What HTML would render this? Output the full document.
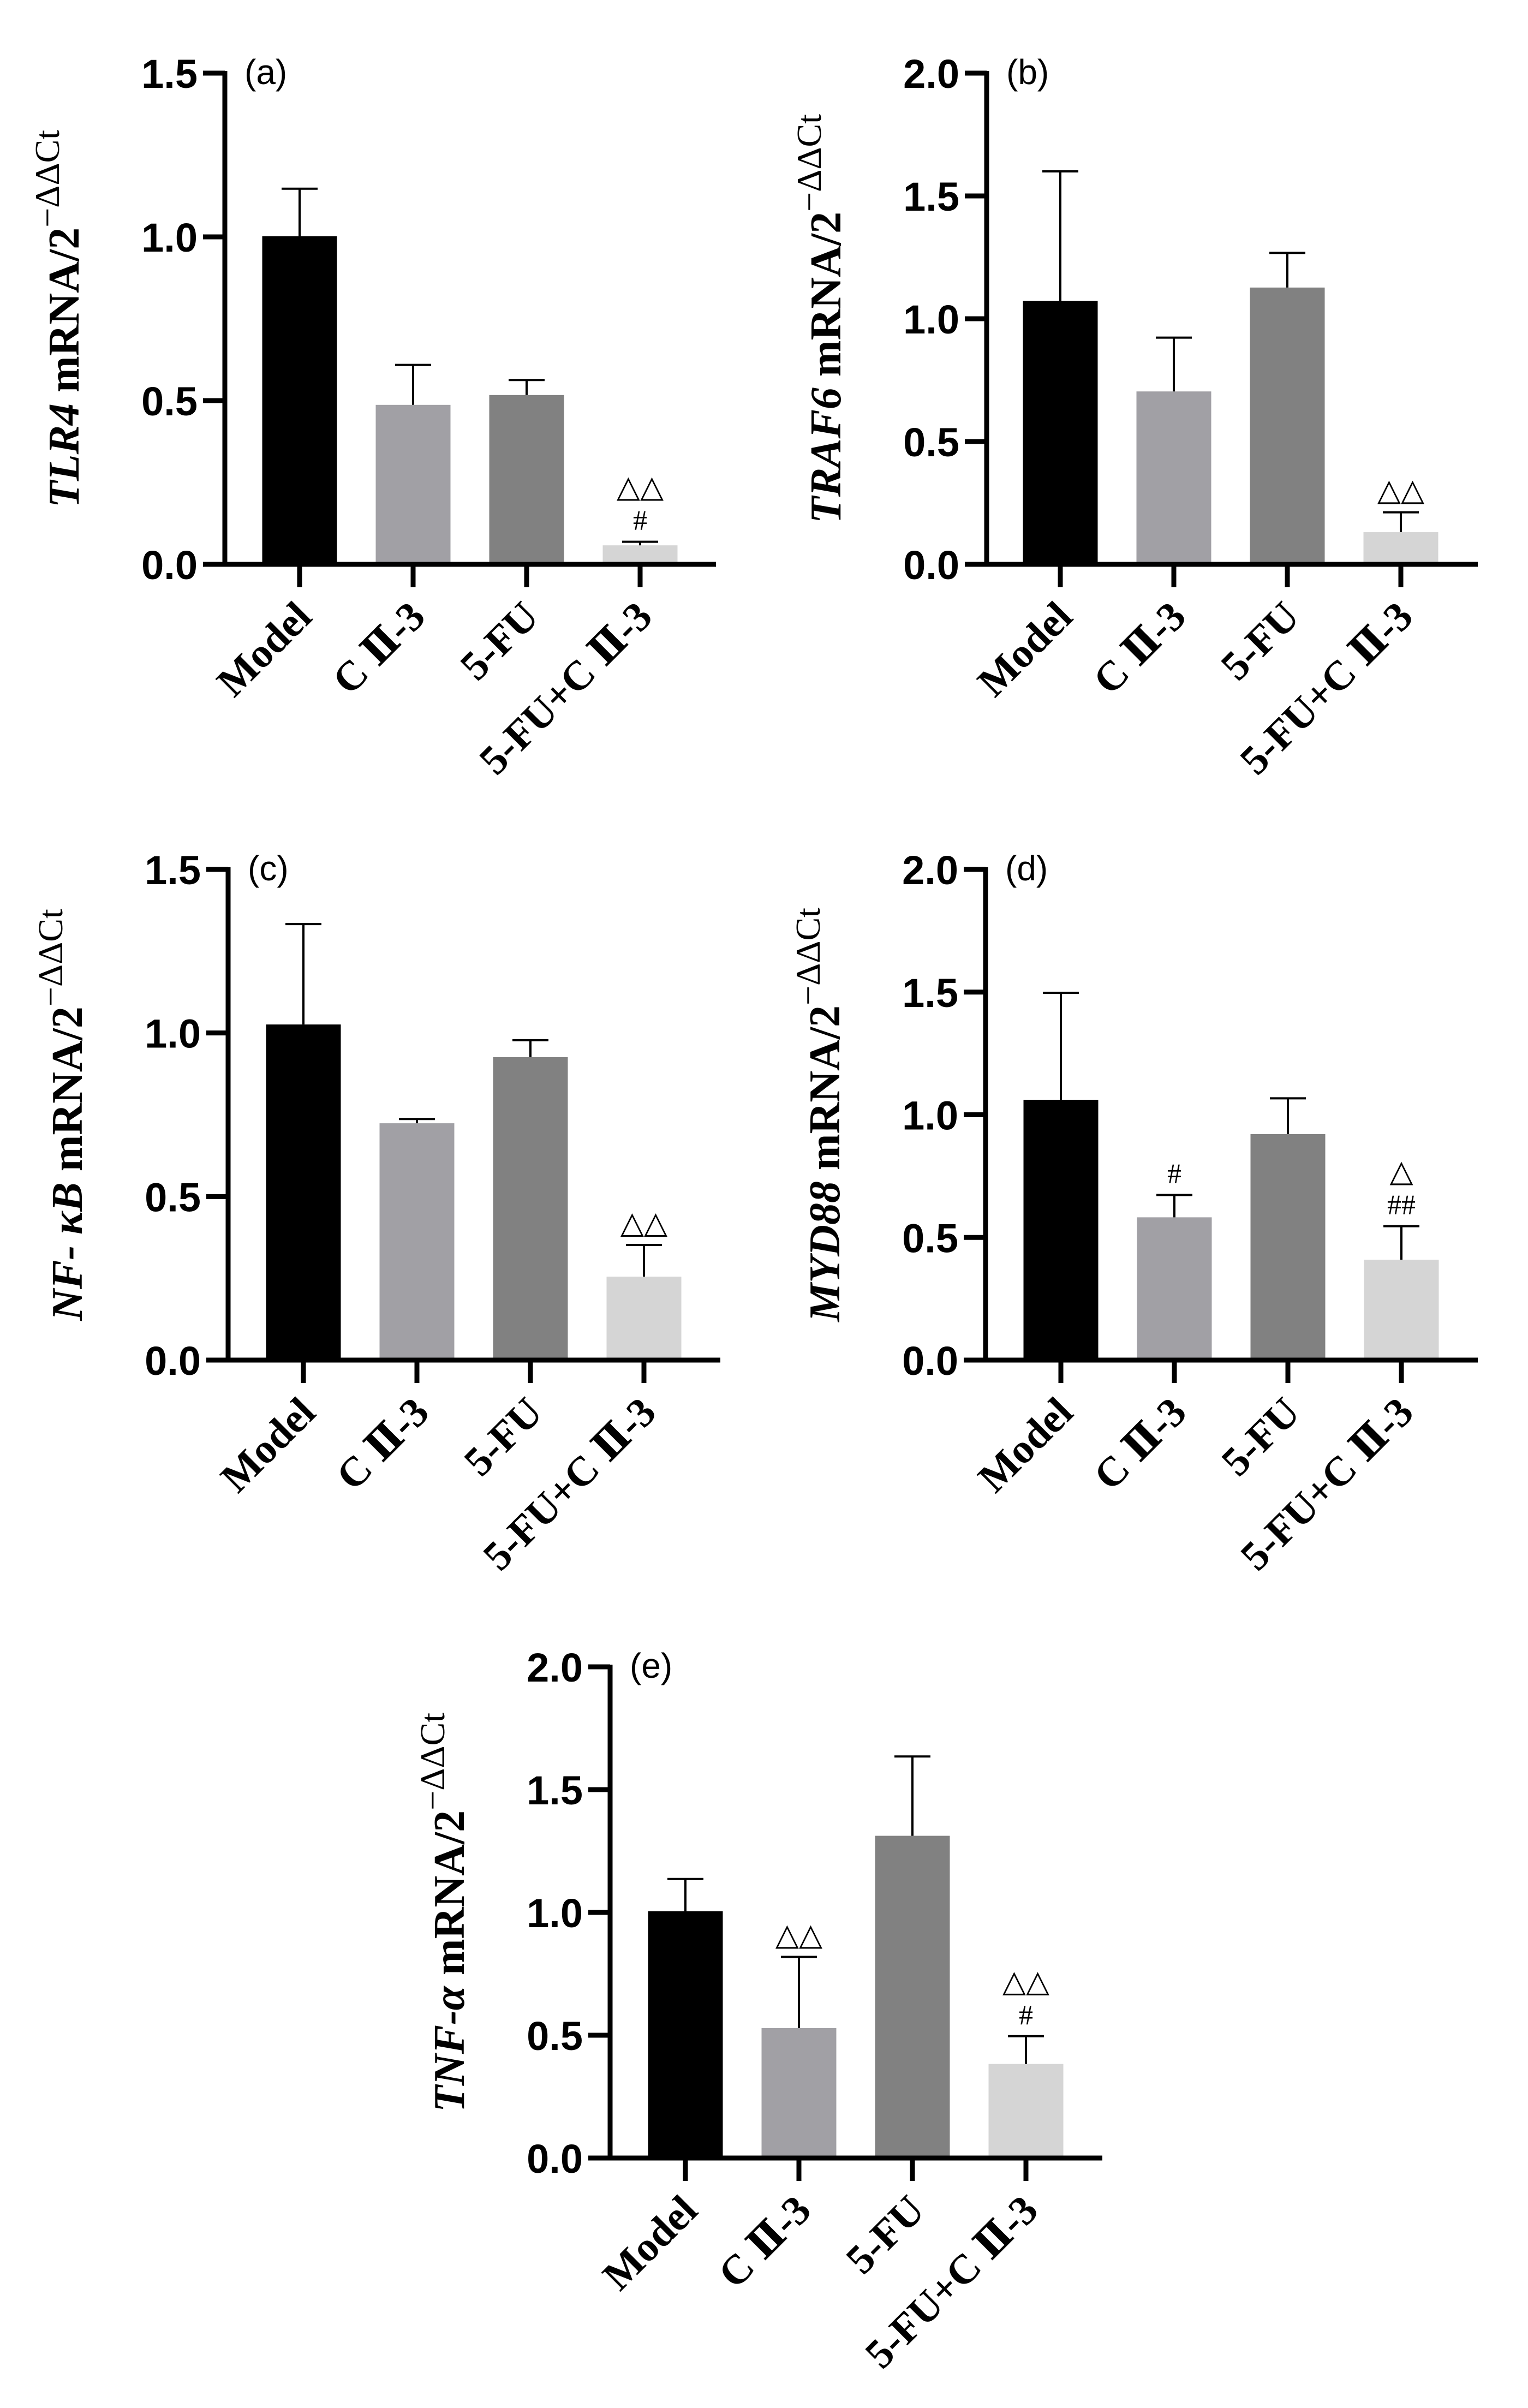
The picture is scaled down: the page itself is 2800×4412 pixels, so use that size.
<!DOCTYPE html>
<html><head><meta charset="utf-8">
<style>
html,body{margin:0;padding:0;background:#fff;}
svg{display:block;}
</style></head>
<body>
<svg id="fig" xmlns="http://www.w3.org/2000/svg" width="2800" height="4412" viewBox="0 0 2800 4412">
<rect width="2800" height="4412" fill="#fff"/>
</svg>
<script>
const categories = ["Model", "C \u2161-3", "5-FU", "5-FU+C \u2161-3"];
const barColors = ["#000000", "#a1a0a5", "#818181", "#d5d5d5"];
const panelIds = ["a", "b", "c", "d", "e"];
const genes = ["TLR4", "TRAF6", "NF- \u03baB", "MYD88", "TNF-\u03b1"];
const yMaxes = [1.5, 2.0, 1.5, 2.0, 2.0];
const tickStep = 0.5;
const meansA = [1.002, 0.487, 0.517, 0.058];
const errsA  = [1.147, 0.609, 0.563, 0.069];
const meansB = [1.073, 0.704, 1.127, 0.131];
const errsB  = [1.600, 0.923, 1.268, 0.212];
const meansC = [1.026, 0.724, 0.926, 0.255];
const errsC  = [1.333, 0.737, 0.978, 0.352];
const meansD = [1.061, 0.582, 0.921, 0.409];
const errsD  = [1.497, 0.673, 1.067, 0.546];
const meansE = [1.005, 0.529, 1.312, 0.383];
const errsE  = [1.136, 0.819, 1.635, 0.496];
const annotA = [[], [], [], ["#", "\u25b3\u25b3"]];
const annotB = [[], [], [], ["\u25b3\u25b3"]];
const annotC = [[], [], [], ["\u25b3\u25b3"]];
const annotD = [[], ["#"], [], ["##", "\u25b3"]];
const annotE = [[], ["\u25b3\u25b3"], [], ["#", "\u25b3\u25b3"]];

const allMeans = [meansA, meansB, meansC, meansD, meansE];
const allErrs = [errsA, errsB, errsC, errsD, errsE];
const allAnnots = [annotA, annotB, annotC, annotD, annotE];
// layout (pixel geometry)
const layout = [
  {ax:412, top:134, bot:1034, xEnd:1312, c0:549},
  {ax:1808, top:134, bot:1034, xEnd:2708, c0:1943},
  {ax:418, top:1593, bot:2492, xEnd:1320, c0:556},
  {ax:1806, top:1593, bot:2492, xEnd:2708, c0:1944},
  {ax:1118, top:3054, bot:3954, xEnd:2020, c0:1256}
];
const STEP = 208, BARW = 137;
const NS = "http://www.w3.org/2000/svg";
const svg = document.getElementById("fig");
function mk(tag, attrs, parent){
  const e = document.createElementNS(NS, tag);
  for (const k in attrs) e.setAttribute(k, attrs[k]);
  (parent||svg).appendChild(e);
  return e;
}
const SANS = '"Liberation Sans", Arial, sans-serif';
const SERIF = '"Liberation Serif", "DejaVu Serif", serif';

panelIds.forEach((pid, pi) => {
  const L = layout[pi], ymax = yMaxes[pi];
  const yScale = v => L.bot - (v / ymax) * (L.bot - L.top);
  const xScale = i => L.c0 + i * STEP;
  const g = mk("g", {});
  
  

  allMeans[pi].forEach((m, i) => {
    const r = mk("rect", {x: xScale(i) - BARW/2, y: yScale(m), width: BARW, height: L.bot - yScale(m), fill: barColors[i]}, g);
    
    
  });
  allErrs[pi].forEach((e, i) => {
    const cx = xScale(i);
    const eg = mk("g", {stroke: "#000", "stroke-width": 4, fill: "none"}, g);
    
    
    mk("line", {x1: cx, x2: cx, y1: yScale(allMeans[pi][i]), y2: yScale(e)}, eg);
    mk("line", {x1: cx - 33, x2: cx + 33, y1: yScale(e), y2: yScale(e)}, eg);
    allAnnots[pi][i].forEach((s, k) => {
      const isHash = s.indexOf("#") >= 0;
      const t = mk("text", {x: cx, y: yScale(e) - 22 - 60 * k, "text-anchor": "middle",
        "font-family": isHash ? SERIF : '"DejaVu Sans", sans-serif',
        "font-size": isHash ? 52 : 56, fill: "#000"}, g);
      t.textContent = s;
      
      
    });
  });
  const axY = mk("line", {x1: L.ax, x2: L.ax, y1: L.top - 4, y2: L.bot + 4, stroke: "#000", "stroke-width": 9}, g);
  
  
  const axX = mk("line", {x1: L.ax - 40, x2: L.xEnd, y1: L.bot, y2: L.bot, stroke: "#000", "stroke-width": 9}, g);
  
  
  for (let v = 0; v <= ymax + 1e-9; v += tickStep) {
    const y = yScale(v);
    mk("line", {x1: L.ax - 40, x2: L.ax, y1: y, y2: y, stroke: "#000", "stroke-width": 9}, g);
    const t = mk("text", {x: L.ax - 50, y: y + 27, "text-anchor": "end", "font-family": SANS, "font-weight": "bold", "font-size": 74, fill: "#000"}, g);
    t.textContent = v.toFixed(1);
    
    
  }
  categories.forEach((c, i) => {
    const cx = xScale(i);
    mk("line", {x1: cx, x2: cx, y1: L.bot, y2: L.bot + 42, stroke: "#000", "stroke-width": 9}, g);
    const tx = cx + 26, ty = L.bot + 100;
    const t = mk("text", {x: tx, y: ty, "text-anchor": "end", transform: `rotate(-45 ${tx} ${ty})`,
      "font-family": SERIF, "font-weight": "bold", "font-size": 76, fill: "#000"}, g);
    t.textContent = c;
    
    
  });
  const pl = mk("text", {x: L.ax + 36, y: L.top + 20, "font-family": SANS, "font-size": 64, fill: "#000"}, g);
  pl.textContent = "(" + pid + ")";
  
  
  const tx = L.ax - 268, ty = (L.top + L.bot) / 2;
  const yt = mk("text", {x: tx, y: ty, "text-anchor": "middle", transform: `rotate(-90 ${tx} ${ty})`,
    "font-family": SERIF, "font-weight": "bold", "font-size": 80, fill: "#000"}, g);
  
  
  const s1 = mk("tspan", {"font-style": "italic"}, yt); s1.textContent = genes[pi];
  const s2 = mk("tspan", {}, yt); s2.textContent = " mRNA/2";
  const s3 = mk("tspan", {dy: -36, "font-size": 64, "font-weight": "normal"}, yt); s3.textContent = "\u2212\u0394\u0394Ct";
});
</script>
</body></html>
